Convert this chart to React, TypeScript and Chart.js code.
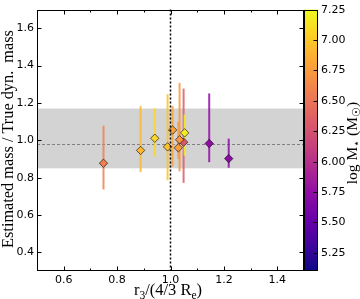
import React, { useEffect, useRef } from "react";
import { Chart, registerables } from "chart.js";

Chart.register(...registerables);

// r3 / (4/3 Re)
const radiusRatio = [0.749, 0.888, 0.941, 1.218, 1.145, 0.989, 1.029, 1.049, 1.034, 1.008, 1.053];
// Estimated mass / true dynamical mass
const massRatio = [0.877, 0.946, 1.011, 0.902, 0.983, 0.965, 0.96, 0.99, 1.003, 1.055, 1.04];
const errLow = [0.737, 0.83, 0.911, 0.853, 0.883, 0.786, 0.9, 0.772, 0.834, 0.86, 0.918];
const errHigh = [1.078, 1.184, 1.172, 1.009, 1.251, 1.247, 1.098, 1.277, 1.307, 1.184, 1.137];
// log M* (Msun) -> colour
const logMass = [6.58, 6.91, 7.08, 5.72, 5.75, 6.97, 6.76, 6.33, 6.71, 6.8, 7.19];

const xTicks = [0.6, 0.8, 1.0, 1.2, 1.4];
const xMinorTicks = [0.7, 0.9, 1.1, 1.3];
const yTicks = [0.4, 0.6, 0.8, 1.0, 1.2, 1.4, 1.6];
const cbTicks = [5.25, 5.5, 5.75, 6.0, 6.25, 6.5, 6.75, 7.0, 7.25];

const bandLow = 0.85;
const bandHigh = 1.17;
const medianRatio = 0.98;
const refRadius = 1.0;
const cbMin = 5.1;
const cbMax = 7.25;

const PLASMA = [
  [13, 8, 135], [65, 4, 157], [106, 0, 168], [143, 13, 164], [177, 42, 144],
  [204, 71, 120], [225, 100, 98], [242, 132, 75], [252, 166, 54], [252, 206, 37], [240, 249, 33],
];
function plasma(t: number): string {
  const c = Math.max(0, Math.min(1, t)) * 10;
  const i = Math.min(9, Math.floor(c));
  const f = c - i;
  const a = PLASMA[i], b = PLASMA[i + 1];
  const r = Math.round(a[0] + (b[0] - a[0]) * f);
  const g = Math.round(a[1] + (b[1] - a[1]) * f);
  const bl = Math.round(a[2] + (b[2] - a[2]) * f);
  return `rgb(${r},${g},${bl})`;
}
const massColor = (m: number) => plasma((m - cbMin) / (cbMax - cbMin));

const SERIF = "'Liberation Serif', 'DejaVu Serif', serif";
const SANS = "'DejaVu Sans', sans-serif";

function drawRich(ctx: CanvasRenderingContext2D, parts: [string, boolean][], size: number, x: number, y: number) {
  const widths = parts.map(([t, sub]) => {
    ctx.font = `${sub ? size * 0.7 : size}px ${SERIF}`;
    return ctx.measureText(t).width;
  });
  const total = widths.reduce((s, w) => s + w, 0);
  let cx = x - total / 2;
  ctx.textAlign = "left";
  ctx.textBaseline = "alphabetic";
  parts.forEach(([t, sub], i) => {
    ctx.font = `${sub ? size * 0.7 : size}px ${SERIF}`;
    ctx.fillText(t, cx, sub ? y + size * 0.22 : y);
    cx += widths[i];
  });
}

const customPlugin = {
  id: "custom",
  beforeDatasetsDraw(chart: any) {
    const { ctx, chartArea: a, scales } = chart;
    const x = scales.x, y = scales.y;
    ctx.save();
    ctx.fillStyle = "#d3d3d3";
    const yb1 = y.getPixelForValue(bandHigh);
    const yb2 = y.getPixelForValue(bandLow);
    ctx.fillRect(a.left, yb1, a.right - a.left, yb2 - yb1);

    ctx.strokeStyle = "#808080";
    ctx.lineWidth = 1;
    ctx.setLineDash([3, 2]);
    const ym = Math.round(y.getPixelForValue(medianRatio)) + 0.5;
    ctx.beginPath();
    ctx.moveTo(a.left, ym);
    ctx.lineTo(a.right, ym);
    ctx.stroke();

    ctx.setLineDash([]);
    ctx.lineWidth = 2;
    ctx.globalAlpha = 0.85;
    radiusRatio.forEach((r, i) => {
      const px = x.getPixelForValue(r);
      ctx.strokeStyle = massColor(logMass[i]);
      ctx.beginPath();
      ctx.moveTo(px, y.getPixelForValue(errHigh[i]));
      ctx.lineTo(px, y.getPixelForValue(errLow[i]));
      ctx.stroke();
    });
    ctx.restore();
  },
  afterDatasetsDraw(chart: any) {
    const { ctx, chartArea: a, scales } = chart;
    const x = scales.x, y = scales.y, cb = scales.cb;
    ctx.save();
    ctx.strokeStyle = "#000";
    ctx.lineWidth = 1.5;
    ctx.setLineDash([2, 2]);
    const vx = x.getPixelForValue(refRadius);
    ctx.beginPath();
    ctx.moveTo(vx, a.top);
    ctx.lineTo(vx, a.bottom);
    ctx.stroke();
    ctx.setLineDash([]);

    ctx.lineWidth = 1;
    ctx.strokeStyle = "#000";
    const L = Math.round(a.left) + 0.5, R = Math.round(a.right) - 0.5;
    const T = Math.round(a.top) + 0.5, B = Math.round(a.bottom) - 0.5;
    ctx.strokeRect(L, T, R - L, B - T);

    ctx.beginPath();
    xTicks.forEach((v) => {
      const px = Math.round(x.getPixelForValue(v)) + 0.5;
      ctx.moveTo(px, B); ctx.lineTo(px, B - 4);
      ctx.moveTo(px, T); ctx.lineTo(px, T + 4);
    });
    xMinorTicks.forEach((v) => {
      const px = Math.round(x.getPixelForValue(v)) + 0.5;
      ctx.moveTo(px, B); ctx.lineTo(px, B - 2);
      ctx.moveTo(px, T); ctx.lineTo(px, T + 2);
    });
    yTicks.forEach((v) => {
      const py = Math.round(y.getPixelForValue(v)) + 0.5;
      ctx.moveTo(L, py); ctx.lineTo(L + 4, py);
      ctx.moveTo(R, py); ctx.lineTo(R - 4, py);
    });
    ctx.stroke();

    const cbL = a.right, cbR = a.right + 14;
    const top = cb.getPixelForValue(cbMax), bot = cb.getPixelForValue(cbMin);
    const grad = ctx.createLinearGradient(0, bot, 0, top);
    for (let k = 0; k <= 20; k++) grad.addColorStop(k / 20, plasma(k / 20));
    ctx.fillStyle = grad;
    ctx.fillRect(cbL, top, cbR - cbL, bot - top);
    ctx.strokeRect(cbL + 0.5, Math.round(top) + 0.5, cbR - cbL - 1, Math.round(bot - top) - 1);
    ctx.beginPath();
    ctx.fillStyle = "#000";
    ctx.font = `11px ${SANS}`;
    ctx.textAlign = "left";
    ctx.textBaseline = "middle";
    cbTicks.forEach((v) => {
      const py = Math.round(cb.getPixelForValue(v)) + 0.5;
      ctx.moveTo(cbR - 0.5, py); ctx.lineTo(cbR - 4.5, py);
      ctx.fillText(v.toFixed(2), cbR + 3, py);
    });
    ctx.stroke();

    ctx.save();
    ctx.translate(352, 143);
    ctx.rotate(-Math.PI / 2);
    drawRich(ctx, [["log M", false], ["⋆", true], [" (M", false], ["☉", true], [")", false]], 15.5, 0, 5);
    ctx.restore();

    ctx.save();
    ctx.translate(8, 139);
    ctx.rotate(-Math.PI / 2);
    drawRich(ctx, [["Estimated mass / True dyn.  mass", false]], 16.3, 0, 5);
    ctx.restore();

    drawRich(ctx, [["r", false], ["3", true], ["/(4/3 R", false], ["e", true], [")", false]], 16.5, 168, 295);
    ctx.restore();
  },
};

export default function App() {
  const ref = useRef<HTMLCanvasElement | null>(null);
  useEffect(() => {
    document.body.style.margin = "0";
    if (!ref.current) return;
    const chart = new Chart(ref.current, {
      type: "scatter",
      data: {
        datasets: [
          {
            data: radiusRatio.map((r, i) => ({ x: r, y: massRatio[i] })),
            pointStyle: "rectRot",
            pointRadius: 4.2,
            pointBackgroundColor: logMass.map(massColor),
            pointBorderColor: "#000",
            pointBorderWidth: 0.6,
          },
        ],
      },
      options: {
        animation: false,
        responsive: false,
        events: [],
        layout: { padding: { top: 5, right: 56, left: 0, bottom: 0 } },
        plugins: { legend: { display: false }, tooltip: { enabled: false } },
        scales: {
          x: {
            type: "linear",
            min: 0.5,
            max: 1.5,
            grid: { display: false, drawTicks: false },
            border: { display: false },
            afterBuildTicks: (s: any) => { s.ticks = xTicks.map((v) => ({ value: v })); },
            afterFit: (s: any) => { s.height = 28; },
            ticks: { color: "#000", font: { family: SANS, size: 11 }, padding: 3, maxRotation: 0, callback: (v: any) => Number(v).toFixed(1) },
          },
          y: {
            type: "linear",
            min: 0.3,
            max: 1.7,
            grid: { display: false, drawTicks: false },
            border: { display: false },
            afterBuildTicks: (s: any) => { s.ticks = yTicks.map((v) => ({ value: v })); },
            afterFit: (s: any) => { s.width = 37; },
            ticks: { color: "#000", font: { family: SANS, size: 11 }, padding: 3, callback: (v: any) => Number(v).toFixed(1) },
          },
          cb: {
            type: "linear",
            position: "right",
            display: false,
            min: cbMin,
            max: cbMax,
          },
        },
      },
      plugins: [customPlugin],
    } as any);
    return () => chart.destroy();
  }, []);
  return <canvas ref={ref} width={360} height={299} style={{ display: "block" }} />;
}
